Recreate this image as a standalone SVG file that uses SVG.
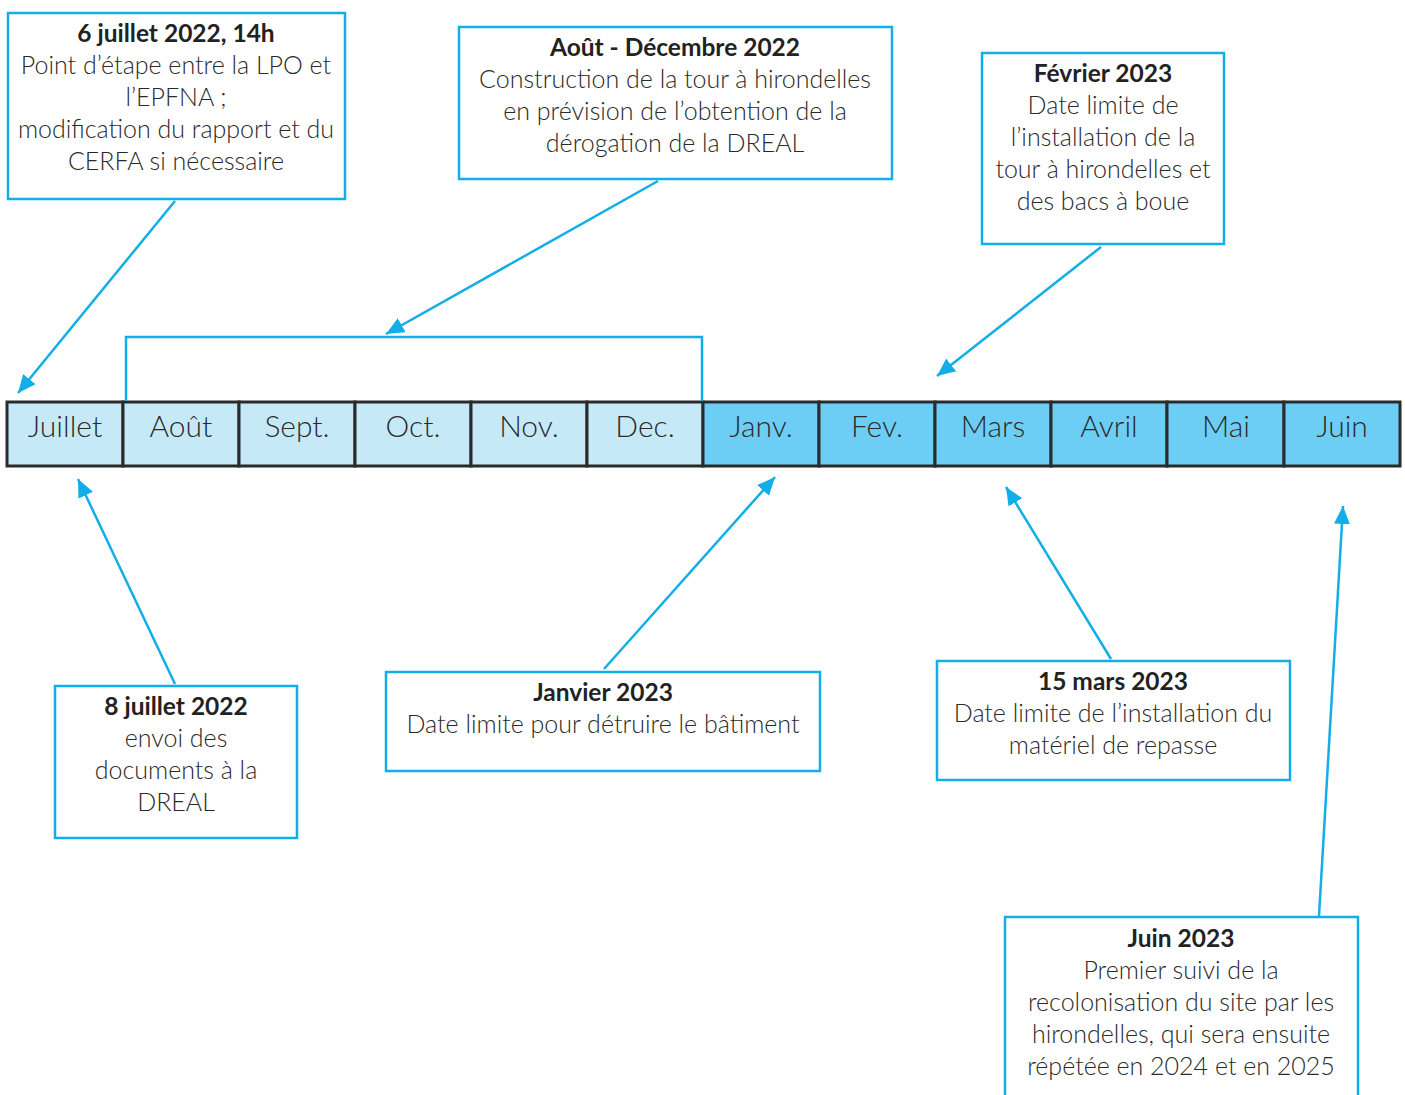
<svg xmlns="http://www.w3.org/2000/svg" width="1405" height="1095" viewBox="0 0 1405 1095">
<style>
.box{fill:#fff;stroke:#12aee8;stroke-width:2.5}
.t{font-family:Lato,"Source Sans Pro","Liberation Sans",sans-serif;font-size:25px;font-weight:300;fill:#2a2a2a;text-anchor:middle}
.b{font-weight:700;font-size:24.5px;fill:#222}
.m{font-family:Lato,"Liberation Sans",sans-serif;font-size:30px;font-weight:300;fill:#2a2a2a;text-anchor:middle}
.c1{fill:#c6e9f8;stroke:#2b2b2b;stroke-width:3}
.c2{fill:#6dcef5;stroke:#2b2b2b;stroke-width:3}
.con{stroke:#12aee8;stroke-width:2.5;fill:none}
</style>
<defs>
<marker id="ah" markerUnits="userSpaceOnUse" markerWidth="20" markerHeight="16" refX="18" refY="8" orient="auto">
<path d="M0,0 L18,8 L0,16 Z" fill="#12aee8"/>
</marker>
</defs>
<rect width="1405" height="1095" fill="#fff"/>
<g id="timeline">
<rect class="c1" x="7" y="402" width="116" height="64"/>
<rect class="c1" x="123" y="402" width="116" height="64"/>
<rect class="c1" x="239" y="402" width="116" height="64"/>
<rect class="c1" x="355" y="402" width="116" height="64"/>
<rect class="c1" x="471" y="402" width="116" height="64"/>
<rect class="c1" x="587" y="402" width="116" height="64"/>
<rect class="c2" x="703" y="402" width="116" height="64"/>
<rect class="c2" x="819" y="402" width="116" height="64"/>
<rect class="c2" x="935" y="402" width="116" height="64"/>
<rect class="c2" x="1051" y="402" width="116" height="64"/>
<rect class="c2" x="1167" y="402" width="117" height="64"/>
<rect class="c2" x="1284" y="402" width="116" height="64"/>
<text class="m" x="65" y="437">Juillet</text>
<text class="m" x="181" y="437">Août</text>
<text class="m" x="297" y="437">Sept.</text>
<text class="m" x="413" y="437">Oct.</text>
<text class="m" x="529" y="437">Nov.</text>
<text class="m" x="645" y="437">Dec.</text>
<text class="m" x="761" y="437">Janv.</text>
<text class="m" x="877" y="437">Fev.</text>
<text class="m" x="993" y="437">Mars</text>
<text class="m" x="1109" y="437">Avril</text>
<text class="m" x="1226" y="437">Mai</text>
<text class="m" x="1342" y="437">Juin</text>
</g>
<g id="connectors">
<polyline class="con" points="126,401 126,337 702,337 702,401"/>
<line class="con" x1="175" y1="201" x2="18" y2="393" marker-end="url(#ah)"/>
<line class="con" x1="658" y1="181" x2="386" y2="334" marker-end="url(#ah)"/>
<line class="con" x1="1101" y1="247" x2="937" y2="376" marker-end="url(#ah)"/>
<line class="con" x1="175" y1="684" x2="78" y2="479" marker-end="url(#ah)"/>
<line class="con" x1="604" y1="669" x2="775" y2="477" marker-end="url(#ah)"/>
<line class="con" x1="1111" y1="659" x2="1006" y2="487" marker-end="url(#ah)"/>
<line class="con" x1="1319" y1="916" x2="1343" y2="506" marker-end="url(#ah)"/>
</g>
<g id="n1">
<rect class="box" x="8" y="13" width="337" height="186"/>
<text class="t b" x="176" y="42">6 juillet 2022, 14h</text>
<text class="t" x="176" y="74">Point d’étape entre la LPO et</text>
<text class="t" x="176" y="106">l’EPFNA ;</text>
<text class="t" x="176" y="138">modification du rapport et du</text>
<text class="t" x="176" y="170">CERFA si nécessaire</text>
</g>
<g id="n2">
<rect class="box" x="459" y="27" width="433" height="152"/>
<text class="t b" x="675" y="56">Août - Décembre 2022</text>
<text class="t" x="675" y="88">Construction de la tour à hirondelles</text>
<text class="t" x="675" y="120">en prévision de l’obtention de la</text>
<text class="t" x="675" y="152">dérogation de la DREAL</text>
</g>
<g id="n3">
<rect class="box" x="982" y="53" width="242" height="191"/>
<text class="t b" x="1103" y="82">Février 2023</text>
<text class="t" x="1103" y="114">Date limite de</text>
<text class="t" x="1103" y="146">l’installation de la</text>
<text class="t" x="1103" y="178">tour à hirondelles et</text>
<text class="t" x="1103" y="210">des bacs à boue</text>
</g>
<g id="n4">
<rect class="box" x="55" y="686" width="242" height="152"/>
<text class="t b" x="176" y="715">8 juillet 2022</text>
<text class="t" x="176" y="747">envoi des</text>
<text class="t" x="176" y="779">documents à la</text>
<text class="t" x="176" y="811">DREAL</text>
</g>
<g id="n5">
<rect class="box" x="386" y="672" width="434" height="99"/>
<text class="t b" x="603" y="701">Janvier 2023</text>
<text class="t" x="603" y="733">Date limite pour détruire le bâtiment</text>
</g>
<g id="n6">
<rect class="box" x="937" y="661" width="353" height="119"/>
<text class="t b" x="1113" y="690">15 mars 2023</text>
<text class="t" x="1113" y="722">Date limite de l’installation du</text>
<text class="t" x="1113" y="754">matériel de repasse</text>
</g>
<g id="n7">
<rect class="box" x="1005" y="917" width="353" height="200"/>
<text class="t b" x="1181" y="947">Juin 2023</text>
<text class="t" x="1181" y="979">Premier suivi de la</text>
<text class="t" x="1181" y="1011">recolonisation du site par les</text>
<text class="t" x="1181" y="1043">hirondelles, qui sera ensuite</text>
<text class="t" x="1181" y="1075">répétée en 2024 et en 2025</text>
</g>
</svg>
